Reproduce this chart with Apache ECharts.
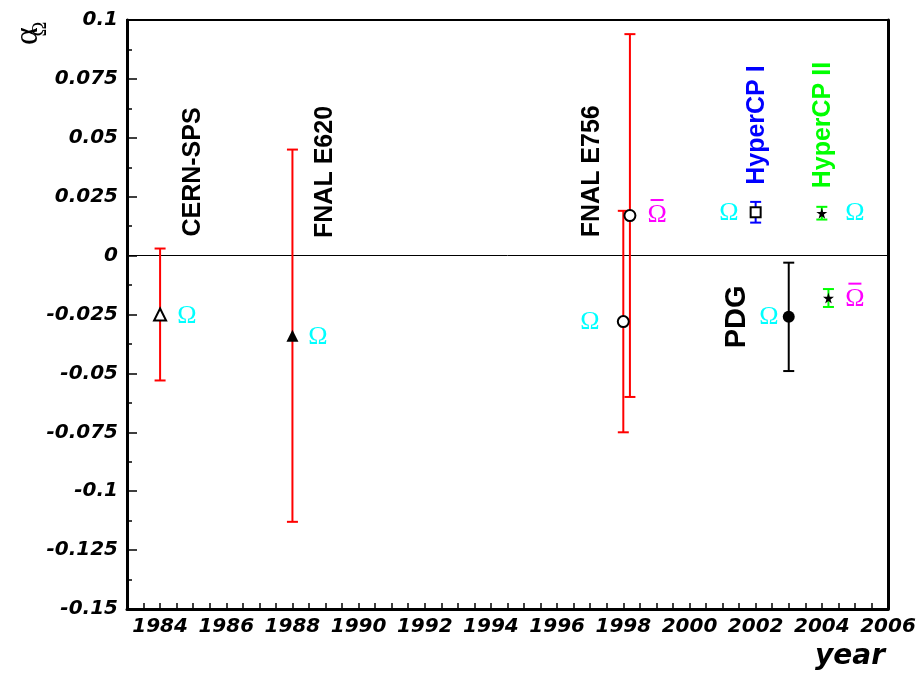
<!DOCTYPE html>
<html><head><meta charset="utf-8">
<script src="https://cdn.jsdelivr.net/npm/echarts@6/dist/echarts.min.js"></script>
<style>html,body{margin:0;padding:0;background:#fff}#c{width:920px;height:680px}</style>
</head><body><div id="c"></div>
<script>
// ---- data ----
const yearTicks = [1984, 1986, 1988, 1990, 1992, 1994, 1996, 1998, 2000, 2002, 2004, 2006];
const measNames  = ['CERN-SPS Ω', 'FNAL E620 Ω', 'FNAL E756 Ω', 'FNAL E756 anti-Ω', 'HyperCP I Ω', 'HyperCP II Ω', 'HyperCP II anti-Ω', 'PDG Ω'];
const measYears  = [1984, 1988, 1998, 1998.2, 2002, 2004, 2004.2, 2003];
const measValues = [-0.025, -0.034, -0.028, 0.017, 0.0184, 0.018, -0.018, -0.026];
const measErrors = [0.028, 0.079, 0.047, 0.077, 0.0044, 0.0027, 0.0038, 0.023];
const measMarkers = ['triangleOpen', 'triangleFilled', 'circleOpen', 'circleOpen', 'squareOpen', 'star', 'star', 'circleFilled'];
const measBarColors = ['#ff0000', '#ff0000', '#ff0000', '#ff0000', '#0000ff', '#00ff00', '#00ff00', '#000000'];

const expLabels      = ['CERN-SPS', 'FNAL E620', 'FNAL E756', 'HyperCP I', 'HyperCP II', 'PDG'];
const expLabelYears  = [1985.0, 1989.0, 1997.05, 2002.04, 2004.03, 2001.43];
const expLabelValues = [0.0355, 0.0355, 0.0358, 0.0554, 0.0554, -0.026];
const expLabelColors = ['#000000', '#000000', '#000000', '#0000ff', '#00ff00', '#000000'];
const expLabelBig    = [false, false, false, false, false, true];

const particleLabels = ['Ω', 'Ω', 'Ω', 'anti', 'Ω', 'Ω', 'anti', 'Ω'];
const particleYears  = [1984.81, 1988.77, 1996.99, 1999.02, 2001.19, 2005.0, 2005.0, 2002.40];
const particleValues = [-0.0256, -0.0345, -0.0282, 0.0185, 0.0181, 0.0181, -0.0170, -0.026];
const particleColors = ['#00ffff', '#00ffff', '#00ffff', '#ff00ff', '#00ffff', '#00ffff', '#ff00ff', '#00ffff'];

// ---- styles ----
const STAR = 'path://M50,0 L61,35 L98,35 L68,57 L79,91 L50,70 L21,91 L32,57 L2,35 L39,35 Z';
const markerStyles = {
  triangleOpen:   {symbol: 'triangle', symbolSize: 12, itemStyle: {color: '#fff', borderColor: '#000', borderWidth: 2, opacity: 1}},
  triangleFilled: {symbol: 'triangle', symbolSize: 12, itemStyle: {color: '#000', opacity: 1}},
  circleOpen:     {symbol: 'circle', symbolSize: 11, itemStyle: {color: '#fff', borderColor: '#000', borderWidth: 2, opacity: 1}},
  squareOpen:     {symbol: 'rect', symbolSize: 10, itemStyle: {color: '#fff', borderColor: '#000', borderWidth: 2, opacity: 1}},
  star:           {symbol: STAR, symbolSize: 11, itemStyle: {color: '#000', opacity: 1}},
  circleFilled:   {symbol: 'circle', symbolSize: 12, itemStyle: {color: '#000', opacity: 1}}
};
const tickFont = {fontFamily: 'DejaVu Sans', fontWeight: 'bold', fontStyle: 'italic', fontSize: 20, color: '#000'};

const chart = echarts.init(document.getElementById('c'), null, {renderer: 'canvas'});

const errData = measYears.map((x, i) => [x, measValues[i], measErrors[i], i]);
const markerData = measYears.map((x, i) => Object.assign({value: [x, measValues[i]], name: measNames[i]}, markerStyles[measMarkers[i]]));
const expData = expLabels.map((t, i) => ({
  value: [expLabelYears[i], expLabelValues[i]],
  label: {formatter: t, color: expLabelColors[i], fontSize: expLabelBig[i] ? 29 : 25}
}));
const partData = particleLabels.map((t, i) => ({
  value: [particleYears[i], particleValues[i]],
  label: {
    formatter: t === 'anti' ? '{bar| }\n{om|Ω}' : '{om|Ω}',
    rich: {
      om: {color: particleColors[i], fontFamily: 'Liberation Serif', fontSize: 26, lineHeight: 24, align: 'center'},
      bar: {width: 13, height: 2, lineHeight: 7, backgroundColor: particleColors[i], align: 'center', fontSize: 2}
    }
  }
}));

chart.setOption({
  animation: false,
  backgroundColor: '#fff',
  grid: {left: 127, right: 32, top: 20, bottom: 71, show: true, borderColor: '#000', borderWidth: 2, backgroundColor: 'transparent'},
  title: {text: 'year', right: 30, top: 638, textStyle: {fontFamily: 'DejaVu Sans', fontWeight: 'bold', fontStyle: 'italic', fontSize: 28, color: '#000'}},
  graphic: [
    {type: 'text', x: 28, y: 36, rotation: Math.PI / 2, style: {text: 'α', font: '34px "Liberation Serif"', fill: '#000', textAlign: 'center', textVerticalAlign: 'middle'}},
    {type: 'text', x: 41, y: 29, rotation: Math.PI / 2, style: {text: 'Ω', font: '20px "Liberation Serif"', fill: '#000', textAlign: 'center', textVerticalAlign: 'middle'}}
  ],
  xAxis: {type: 'value', min: 1983, max: 2006, interval: 0.5, position: 'bottom',
    axisLine: {show: true, onZero: false, lineStyle: {color: '#000', width: 3}},
    axisTick: {show: true, inside: true, length: 6, lineStyle: {color: '#000', width: 1.5}},
    axisLabel: {show: true, margin: 8, hideOverlap: false, showMinLabel: true, showMaxLabel: true,
      formatter: v => (yearTicks.indexOf(Math.round(v * 2) / 2) >= 0 ? String(Math.round(v)) : ''), ...tickFont},
    splitLine: {show: false}},
  yAxis: [
    {type: 'value', min: -0.15, max: 0.1, interval: 0.025, position: 'left',
     axisLine: {show: true, onZero: false, lineStyle: {color: '#000', width: 3}},
     axisTick: {show: true, inside: true, length: 10, lineStyle: {color: '#000', width: 1.5}},
     minorTick: {show: true, splitNumber: 2, length: 5, lineStyle: {color: '#000', width: 1.5}},
     axisLabel: {margin: 9, formatter: v => String(+v.toFixed(4)), ...tickFont},
     splitLine: {show: false}},
    {type: 'value', min: -0.15, max: 0.1, position: 'right',
     axisLine: {show: true, onZero: false, lineStyle: {color: '#000', width: 3}},
     axisTick: {show: false}, axisLabel: {show: false}, splitLine: {show: false}}
  ],
  series: [
    {type: 'custom', xAxisIndex: 0, yAxisIndex: 0, z: 3, data: errData,
     renderItem: (params, api) => {
       const x = api.value(0), v = api.value(1), e = api.value(2), i = api.value(3);
       const c = measBarColors[i];
       const t = api.coord([x, v + e]), b = api.coord([x, v - e]);
       const hw = 5.5;
       const st = {stroke: c, lineWidth: 2};
       return {type: 'group', children: [
         {type: 'line', shape: {x1: t[0], y1: t[1], x2: b[0], y2: b[1]}, style: st},
         {type: 'line', shape: {x1: t[0] - hw, y1: t[1], x2: t[0] + hw, y2: t[1]}, style: st},
         {type: 'line', shape: {x1: b[0] - hw, y1: b[1], x2: b[0] + hw, y2: b[1]}, style: st}
       ]};
     }},
    {type: 'scatter', xAxisIndex: 0, yAxisIndex: 0, z: 4, data: markerData,
     markLine: {silent: true, symbol: 'none', label: {show: false}, z: 2,
       lineStyle: {color: '#000', width: 1, type: 'solid', opacity: 1}, data: [{yAxis: 0}]}},
    {type: 'scatter', xAxisIndex: 0, yAxisIndex: 0, z: 5, symbolSize: 1, itemStyle: {color: 'rgba(0,0,0,0)', opacity: 1},
     label: {show: true, position: 'inside', rotate: 90, align: 'center', verticalAlign: 'middle', opacity: 1,
       fontFamily: 'Liberation Sans', fontWeight: 'bold', fontSize: 25},
     data: expData},
    {type: 'scatter', xAxisIndex: 0, yAxisIndex: 0, z: 5, symbolSize: 1, itemStyle: {color: 'rgba(0,0,0,0)', opacity: 1},
     label: {show: true, position: 'inside', align: 'center', verticalAlign: 'middle', opacity: 1},
     data: partData}
  ]
});
</script></body></html>
